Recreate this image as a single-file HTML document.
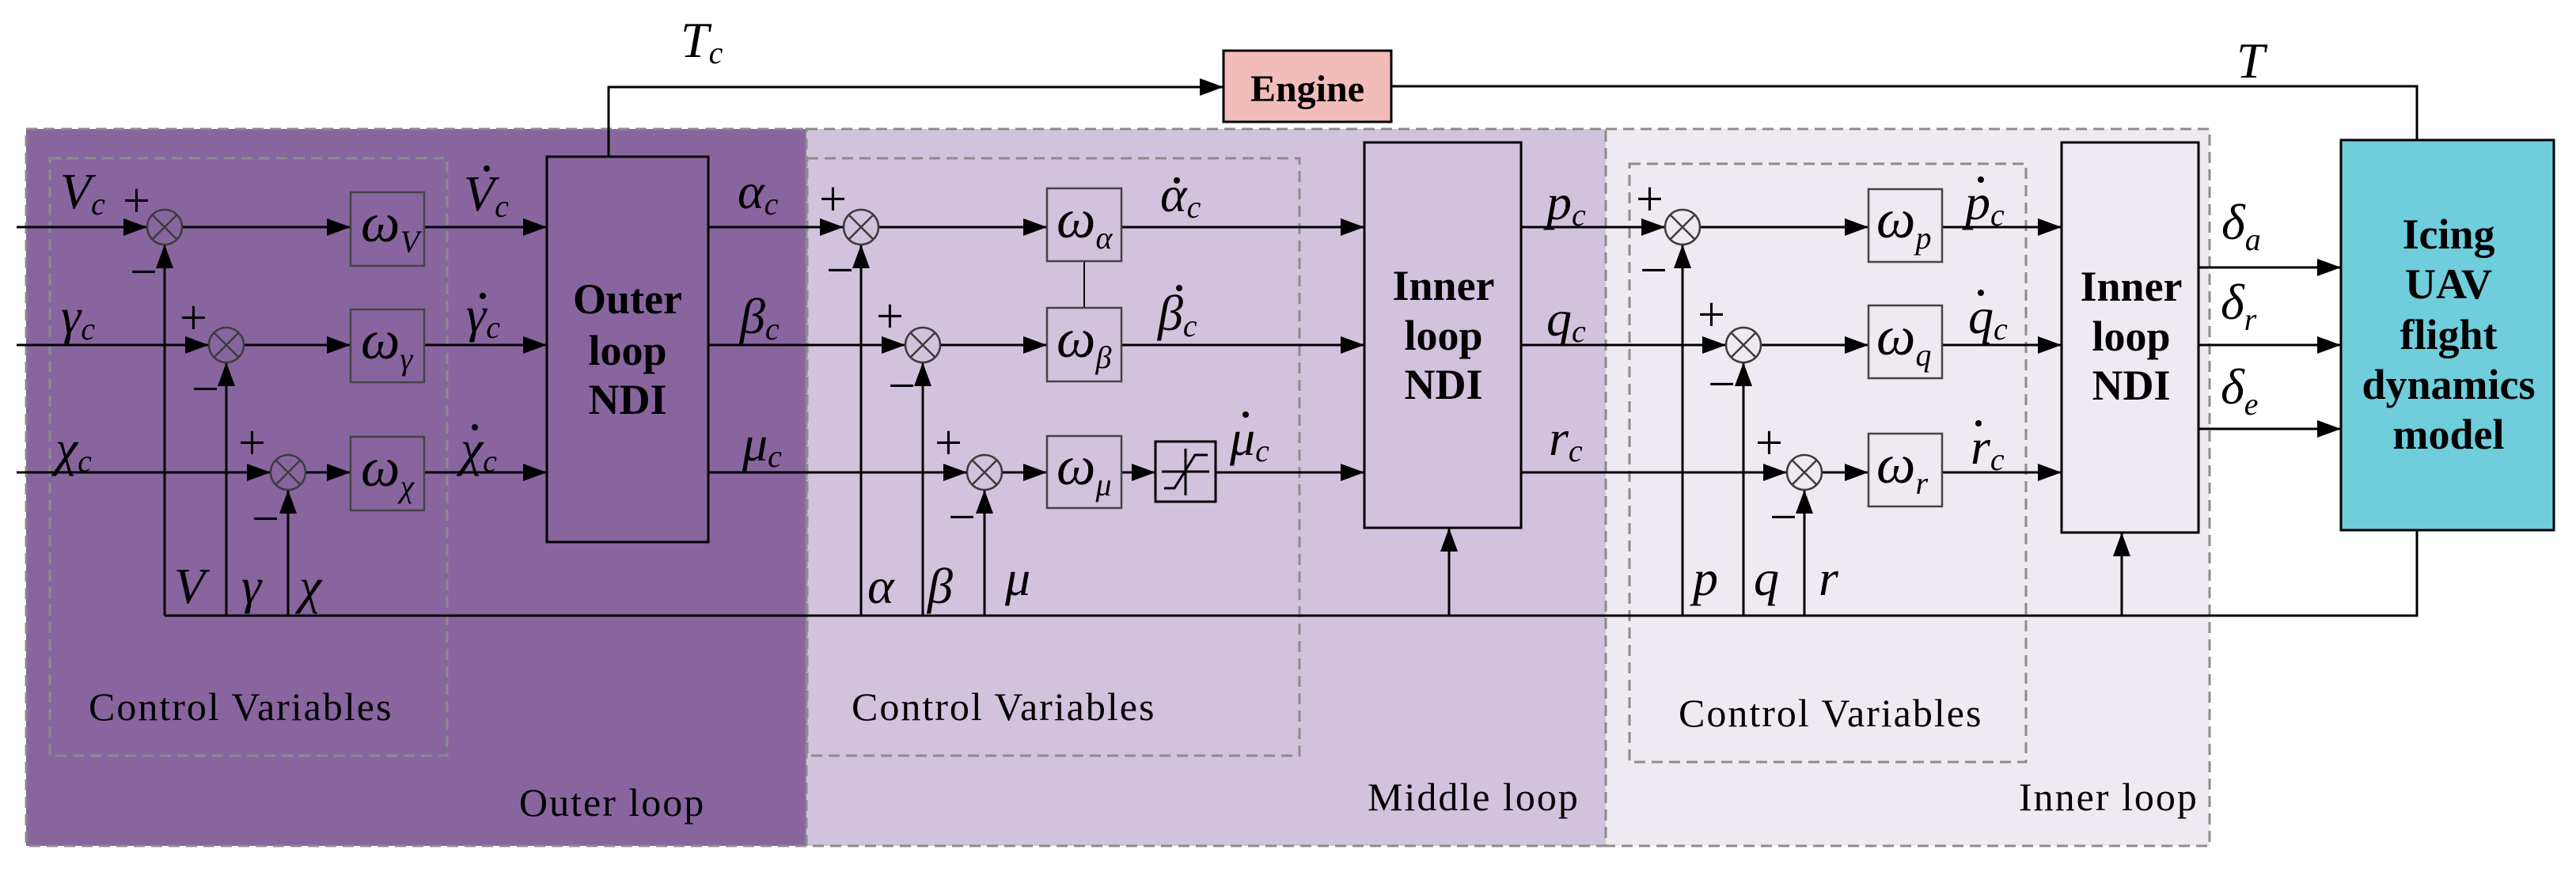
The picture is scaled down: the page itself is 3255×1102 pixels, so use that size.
<!DOCTYPE html>
<html><head><meta charset="utf-8"><style>
html,body{margin:0;padding:0;background:#fff;}
svg{display:block;font-family:"Liberation Serif","Times New Roman",serif;}
text{font-family:"Liberation Serif","Times New Roman",serif;}
.it{font-family:"Liberation Serif",serif;font-style:italic;font-size:64px;}
.om{font-family:"Liberation Serif",serif;font-style:italic;font-size:70px;}
.sub{font-family:"Liberation Serif",serif;font-style:italic;font-size:40px;}
.b{font-family:"Liberation Serif",serif;font-weight:bold;font-size:54px;text-anchor:middle;}
.n{font-family:"Liberation Serif",serif;font-size:50px;letter-spacing:2px;}
.pm{font-family:"Liberation Serif",serif;font-size:62px;}
</style></head><body>
<svg width="3255" height="1102" viewBox="0 0 3255 1102" xmlns="http://www.w3.org/2000/svg" font-family="Liberation Serif, serif">
<defs>
<marker id="a" markerUnits="userSpaceOnUse" markerWidth="32" markerHeight="22" refX="30" refY="11" orient="auto"><path d="M0,0 L30,11 L0,22 z" fill="#000"/></marker>
<g id="s"><circle cx="0" cy="0" r="22"/><path d="M-15,-15 L15,15 M-15,15 L15,-15"/></g>
</defs>
<rect x="33" y="163" width="986" height="906" fill="#89659f" stroke="#8c8c8c" stroke-width="3" stroke-dasharray="14 8"/>
<rect x="1019" y="163" width="1010" height="906" fill="#d1c3de" stroke="#8c8c8c" stroke-width="3" stroke-dasharray="14 8"/>
<rect x="2029" y="163" width="763" height="906" fill="#efeaf1" stroke="#8c8c8c" stroke-width="3" stroke-dasharray="14 8"/>
<g fill="none" stroke="#8c8c8c" stroke-width="3" stroke-dasharray="14 8">
<rect x="63" y="200" width="502" height="755"/>
<rect x="1020" y="200" width="622" height="755"/>
<rect x="2059" y="207" width="501" height="756"/>
</g>
<text class="n" x="112" y="910">Control Variables</text>
<text class="n" x="1076" y="910">Control Variables</text>
<text class="n" x="2121" y="918">Control Variables</text>
<text class="n" x="656" y="1031">Outer loop</text>
<text class="n" x="1728" y="1024">Middle loop</text>
<text class="n" x="2551" y="1024">Inner loop</text>

<g stroke="#000" stroke-width="3" fill="none">
<line x1="21" y1="287" x2="186" y2="287" marker-end="url(#a)"/>
<line x1="21" y1="436" x2="264" y2="436" marker-end="url(#a)"/>
<line x1="21" y1="597" x2="342" y2="597" marker-end="url(#a)"/>
<line x1="230" y1="287" x2="443" y2="287" marker-end="url(#a)"/>
<line x1="308" y1="436" x2="443" y2="436" marker-end="url(#a)"/>
<line x1="386" y1="597" x2="443" y2="597" marker-end="url(#a)"/>
<line x1="536" y1="287" x2="691" y2="287" marker-end="url(#a)"/>
<line x1="536" y1="436" x2="691" y2="436" marker-end="url(#a)"/>
<line x1="536" y1="597" x2="691" y2="597" marker-end="url(#a)"/>
<line x1="208" y1="778" x2="208" y2="309" marker-end="url(#a)"/>
<line x1="286" y1="778" x2="286" y2="458" marker-end="url(#a)"/>
<line x1="364" y1="778" x2="364" y2="619" marker-end="url(#a)"/>
<polyline points="208,778 3054,778 3054,670"/>
<line x1="895" y1="287" x2="1066" y2="287" marker-end="url(#a)"/>
<line x1="895" y1="436" x2="1144" y2="436" marker-end="url(#a)"/>
<line x1="895" y1="597" x2="1222" y2="597" marker-end="url(#a)"/>
<line x1="1088" y1="778" x2="1088" y2="309" marker-end="url(#a)"/>
<line x1="1166" y1="778" x2="1166" y2="458" marker-end="url(#a)"/>
<line x1="1244" y1="778" x2="1244" y2="619" marker-end="url(#a)"/>
<line x1="1110" y1="287" x2="1323" y2="287" marker-end="url(#a)"/>
<line x1="1188" y1="436" x2="1323" y2="436" marker-end="url(#a)"/>
<line x1="1266" y1="597" x2="1323" y2="597" marker-end="url(#a)"/>
<line x1="1417" y1="287" x2="1724" y2="287" marker-end="url(#a)"/>
<line x1="1417" y1="436" x2="1724" y2="436" marker-end="url(#a)"/>
<line x1="1417" y1="597" x2="1460" y2="597" marker-end="url(#a)"/>
<line x1="1536" y1="597" x2="1724" y2="597" marker-end="url(#a)"/>
<line x1="1370" y1="330" x2="1370" y2="389" stroke-width="2"/>
<line x1="1922" y1="287" x2="2104" y2="287" marker-end="url(#a)"/>
<line x1="1922" y1="436" x2="2181" y2="436" marker-end="url(#a)"/>
<line x1="1922" y1="597" x2="2258" y2="597" marker-end="url(#a)"/>
<line x1="2126" y1="778" x2="2126" y2="309" marker-end="url(#a)"/>
<line x1="2203" y1="778" x2="2203" y2="458" marker-end="url(#a)"/>
<line x1="2280" y1="778" x2="2280" y2="619" marker-end="url(#a)"/>
<line x1="2148" y1="287" x2="2361" y2="287" marker-end="url(#a)"/>
<line x1="2225" y1="436" x2="2361" y2="436" marker-end="url(#a)"/>
<line x1="2302" y1="597" x2="2361" y2="597" marker-end="url(#a)"/>
<line x1="2454" y1="287" x2="2605" y2="287" marker-end="url(#a)"/>
<line x1="2454" y1="436" x2="2605" y2="436" marker-end="url(#a)"/>
<line x1="2454" y1="597" x2="2605" y2="597" marker-end="url(#a)"/>
<line x1="2778" y1="338" x2="2958" y2="338" marker-end="url(#a)"/>
<line x1="2778" y1="436" x2="2958" y2="436" marker-end="url(#a)"/>
<line x1="2778" y1="542" x2="2958" y2="542" marker-end="url(#a)"/>
<line x1="1831" y1="778" x2="1831" y2="667" marker-end="url(#a)"/>
<line x1="2681" y1="778" x2="2681" y2="673" marker-end="url(#a)"/>
<polyline points="769,198 769,110 1546,110" marker-end="url(#a)"/>
<polyline points="1758,109 3054,109 3054,177"/>
</g>

<g fill="none" stroke="#3c3c3c" stroke-width="2.5">
<use href="#s" x="208" y="287"/><use href="#s" x="286" y="436"/><use href="#s" x="364" y="597"/>
<use href="#s" x="1088" y="287"/><use href="#s" x="1166" y="436"/><use href="#s" x="1244" y="597"/>
<use href="#s" x="2126" y="287"/><use href="#s" x="2203" y="436"/><use href="#s" x="2280" y="597"/>
</g>
<g fill="none" stroke="#444" stroke-width="2.5">
<rect x="443" y="243" width="93" height="93"/><rect x="443" y="391" width="93" height="92"/><rect x="443" y="552" width="93" height="93"/>
<rect x="1323" y="238" width="94" height="92"/><rect x="1323" y="389" width="94" height="93"/><rect x="1323" y="551" width="94" height="91"/>
<rect x="2361" y="239" width="93" height="92"/><rect x="2361" y="386" width="93" height="92"/><rect x="2361" y="548" width="93" height="92"/>
</g>
<rect x="1460" y="558" width="76" height="76" fill="none" stroke="#000" stroke-width="3"/>
<path d="M1468,596 H1528 M1498,567 V626 M1471,617 H1484 L1510,575 H1526" fill="none" stroke="#000" stroke-width="3"/>
<rect x="691" y="198" width="204" height="487" fill="none" stroke="#000" stroke-width="3"/>
<rect x="1724" y="180" width="198" height="487" fill="none" stroke="#000" stroke-width="3"/>
<rect x="2605" y="180" width="173" height="493" fill="none" stroke="#000" stroke-width="3"/>
<rect x="1546" y="64" width="212" height="90" fill="#f2bcb8" stroke="#000" stroke-width="3"/>
<rect x="2958" y="177" width="269" height="493" fill="#6fcddc" stroke="#000" stroke-width="3"/>
<text class="b" x="793" y="396">Outer</text><text class="b" x="793" y="461">loop</text><text class="b" x="793" y="523">NDI</text>
<text class="b" x="1824" y="379">Inner</text><text class="b" x="1824" y="442">loop</text><text class="b" x="1824" y="504">NDI</text>
<text class="b" x="2693" y="380">Inner</text><text class="b" x="2693" y="443">loop</text><text class="b" x="2693" y="505">NDI</text>
<text class="b" x="1652" y="128" style="font-size:48px">Engine</text>
<text class="b" x="3094" y="314">Icing</text><text class="b" x="3094" y="377">UAV</text><text class="b" x="3094" y="441">flight</text><text class="b" x="3094" y="504">dynamics</text><text class="b" x="3094" y="567">model</text>

<g>
<text class="om" x="456" y="305">ω<tspan class="sub" dy="14">V</tspan></text>
<text class="om" x="456" y="453">ω<tspan class="sub" dy="14">γ</tspan></text>
<text class="om" x="456" y="614">ω<tspan class="sub" dy="14">χ</tspan></text>
<text class="om" x="1335" y="300">ω<tspan class="sub" dy="14">α</tspan></text>
<text class="om" x="1335" y="451">ω<tspan class="sub" dy="14">β</tspan></text>
<text class="om" x="1335" y="612">ω<tspan class="sub" dy="14">μ</tspan></text>
<text class="om" x="2371" y="300">ω<tspan class="sub" dy="14">p</tspan></text>
<text class="om" x="2371" y="448">ω<tspan class="sub" dy="14">q</tspan></text>
<text class="om" x="2371" y="610">ω<tspan class="sub" dy="14">r</tspan></text>
</g>
<g>
<text class="it" x="76" y="263">V<tspan class="sub" dy="8">c</tspan></text>
<text class="it" x="77" y="421">γ<tspan class="sub" dy="8">c</tspan></text>
<text class="it" x="70" y="588">χ<tspan class="sub" dy="8">c</tspan></text>
<text class="it" x="586" y="266">V<tspan class="sub" dy="8">c</tspan></text>
<text class="it" x="589" y="419">γ<tspan class="sub" dy="8">c</tspan></text>
<text class="it" x="582" y="588">χ<tspan class="sub" dy="8">c</tspan></text>
<text class="it" x="932" y="263">α<tspan class="sub" dy="8">c</tspan></text>
<text class="it" x="935" y="421">β<tspan class="sub" dy="8">c</tspan></text>
<text class="it" x="938" y="582">μ<tspan class="sub" dy="8">c</tspan></text>
<text class="it" x="1466" y="267">α<tspan class="sub" dy="8">c</tspan></text>
<text class="it" x="1463" y="417">β<tspan class="sub" dy="8">c</tspan></text>
<text class="it" x="1554" y="575">μ<tspan class="sub" dy="8">c</tspan></text>
<text class="it" x="1954" y="277">p<tspan class="sub" dy="8">c</tspan></text>
<text class="it" x="1954" y="424">q<tspan class="sub" dy="8">c</tspan></text>
<text class="it" x="1957" y="575">r<tspan class="sub" dy="8">c</tspan></text>
<text class="it" x="2483" y="277">p<tspan class="sub" dy="8">c</tspan></text>
<text class="it" x="2487" y="421">q<tspan class="sub" dy="8">c</tspan></text>
<text class="it" x="2490" y="586">r<tspan class="sub" dy="8">c</tspan></text>
<text class="it" x="2807" y="302">δ<tspan class="sub" dy="14">a</tspan></text>
<text class="it" x="2806" y="403">δ<tspan class="sub" dy="14">r</tspan></text>
<text class="it" x="2806" y="510">δ<tspan class="sub" dy="14">e</tspan></text>
<text class="it" x="220" y="762">V</text>
<text class="it" x="305" y="762">γ</text>
<text class="it" x="378" y="762">χ</text>
<text class="it" x="1096" y="762">α</text>
<text class="it" x="1172" y="762">β</text>
<text class="it" x="1270" y="752">μ</text>
<text class="it" x="2139" y="752">p</text>
<text class="it" x="2216" y="752">q</text>
<text class="it" x="2298" y="752">r</text>
<text class="it" x="860" y="72">T<tspan class="sub" dy="8">c</tspan></text>
<text class="it" x="2826" y="98">T</text>
</g>
<g fill="#000">
<circle cx="615" cy="213" r="4"/><circle cx="610" cy="374" r="4"/><circle cx="600" cy="540" r="4"/>
<circle cx="1487" cy="228" r="4"/><circle cx="1490" cy="364" r="4"/><circle cx="1574" cy="524" r="4"/>
<circle cx="2503" cy="227" r="4"/><circle cx="2503" cy="370" r="4"/><circle cx="2500" cy="535" r="4"/>
</g>
<g class="pm">
<text x="155" y="274">+</text><text x="164" y="364">−</text>
<text x="227" y="422">+</text><text x="242" y="512">−</text>
<text x="301" y="580">+</text><text x="318" y="676">−</text>
<text x="1035" y="272">+</text><text x="1044" y="362">−</text>
<text x="1107" y="420">+</text><text x="1122" y="508">−</text>
<text x="1181" y="580">+</text><text x="1198" y="674">−</text>
<text x="2067" y="272">+</text><text x="2072" y="362">−</text>
<text x="2145" y="418">+</text><text x="2158" y="506">−</text>
<text x="2218" y="580">+</text><text x="2236" y="674">−</text>
</g>
</svg>
</body></html>
